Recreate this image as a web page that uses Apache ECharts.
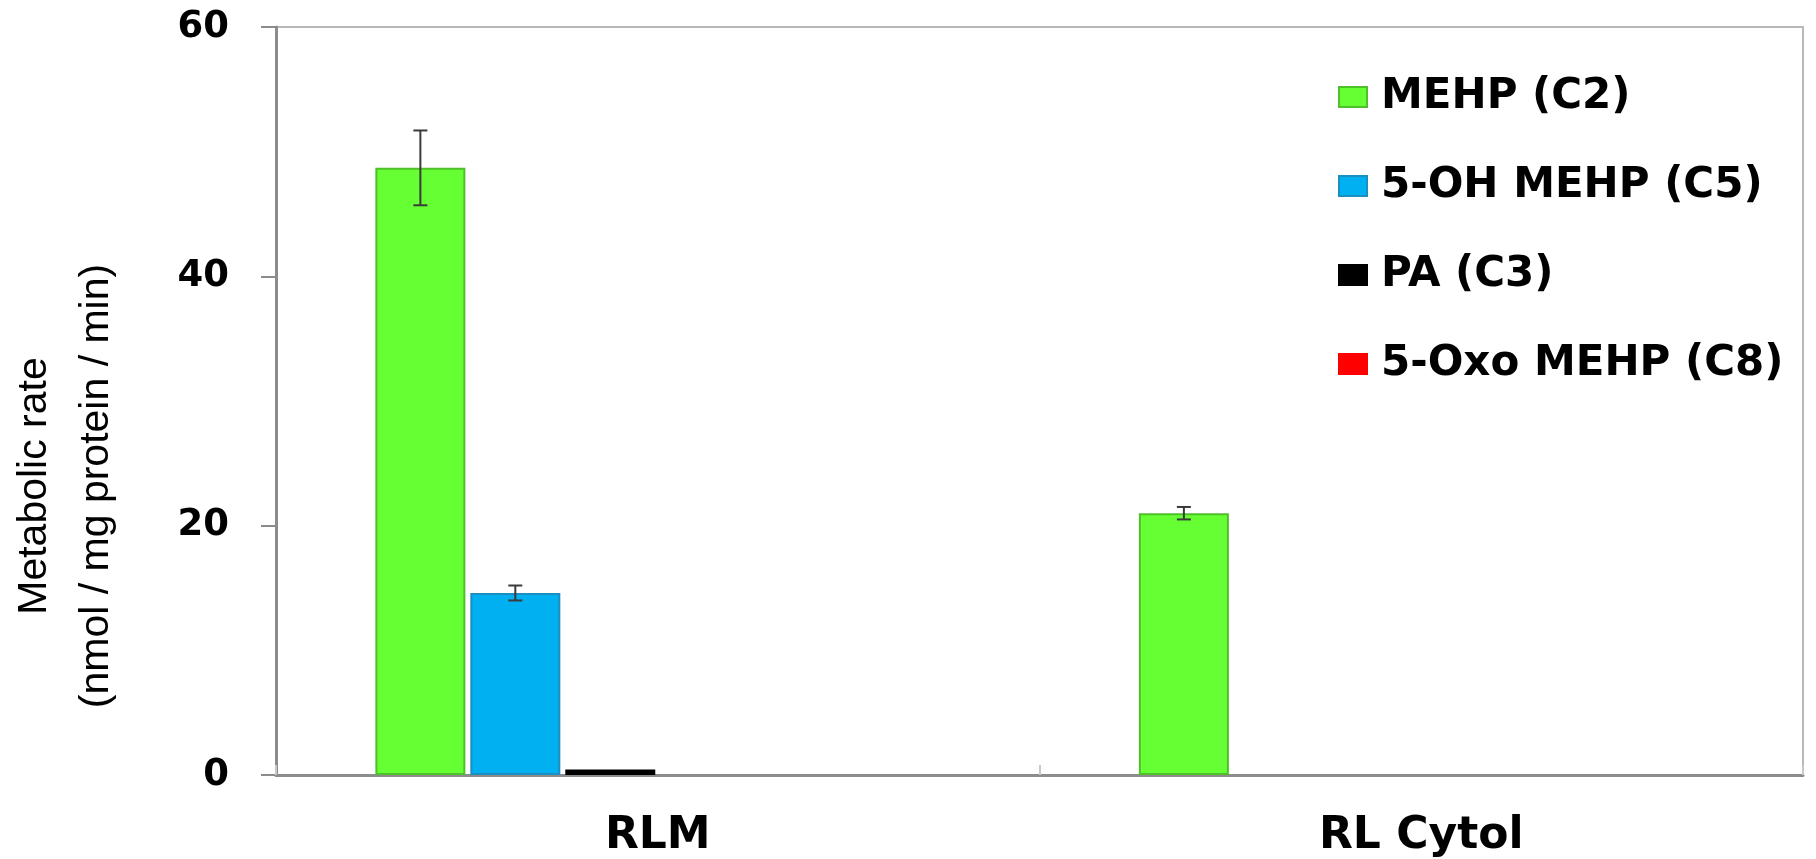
<!DOCTYPE html>
<html>
<head>
<meta charset="utf-8">
<title>Metabolic rate of MEHP metabolites</title>
<script src="https://cdn.jsdelivr.net/npm/echarts@6/dist/echarts.min.js"></script>
<style>
  html, body { margin: 0; padding: 0; background: #fff; }
  #chart { width: 1816px; height: 859px; }
</style>
</head>
<body>
<div id="chart"></div>
<script>
// Fractions
const categories = ['RLM', 'RL Cytol'];

// Metabolic rate (nmol / mg protein / min), one array per metabolite
const mehpC2 = [48.7, 21.0];
const ohMehpC5 = [14.6, 0];
const paC3 = [0.45, 0];
const oxoMehpC8 = [0, 0];

// Standard deviation for each bar
const mehpC2Err = [3.0, 0.5];
const ohMehpC5Err = [0.6, 0];
const paC3Err = [0, 0];
const oxoMehpC8Err = [0, 0];

const seriesNames = ['MEHP (C2)', '5-OH MEHP (C5)', 'PA (C3)', '5-Oxo MEHP (C8)'];
const yTicks = [0, 20, 40, 60];

const fills = ['#66ff33', '#00b0f0', '#000000', '#ff0000'];
const borders = ['#4fc02a', '#1a8fc0', '#000000', '#ff0000'];

const values = [mehpC2, ohMehpC5, paC3, oxoMehpC8];
const errors = [mehpC2Err, ohMehpC5Err, paC3Err, oxoMehpC8Err];

// Each group holds six bar slots; the last two stay empty.
const SLOTS = 6;
const BAR_W = 90;
const BAR_GAP = 0.055;

const TICK_FONT = 'DejaVu Sans';

const chart = echarts.init(document.getElementById('chart'), null, { renderer: 'canvas' });

const barSeries = values.map((vals, i) => ({
  name: seriesNames[i],
  type: 'bar',
  barWidth: BAR_W,
  barGap: (BAR_GAP * 100) + '%',
  // zero-height bars get no outline so they stay invisible
  data: vals.map(v => ({ value: v, itemStyle: { borderWidth: v > 0 ? 2 : 0 } })),
  itemStyle: {
    color: fills[i],
    borderColor: borders[i],
    borderWidth: 2
  },
  emphasis: { disabled: true },
  z: 2
}));

// Placeholder slots that keep the group layout
const emptySlots = [0, 1].map(() => ({
  type: 'bar',
  barWidth: BAR_W,
  barGap: (BAR_GAP * 100) + '%',
  data: [],
  silent: true
}));

// Error bars drawn on top of each bar
const errData = [];
values.forEach((vals, s) => {
  vals.forEach((v, c) => {
    if (errors[s][c] > 0) errData.push([c, v, errors[s][c], s]);
  });
});

const errorSeries = {
  type: 'custom',
  data: errData,
  z: 5,
  silent: true,
  renderItem: function (params, api) {
    const c = api.value(0);
    const v = api.value(1);
    const e = api.value(2);
    const s = api.value(3);
    const gapPx = BAR_W * BAR_GAP;
    const total = SLOTS * BAR_W + (SLOTS - 1) * gapPx;
    const center = api.coord([c, 0])[0];
    const x = center - total / 2 + s * (BAR_W + gapPx) + BAR_W / 2;
    const yHi = api.coord([c, v + e])[1];
    const yLo = api.coord([c, v - e])[1];
    const cap = 7;
    const style = { stroke: '#3a3a3a', lineWidth: 2 };
    return {
      type: 'group',
      children: [
        { type: 'line', shape: { x1: x, y1: yHi, x2: x, y2: yLo }, style: style },
        { type: 'line', shape: { x1: x - cap, y1: yHi, x2: x + cap, y2: yHi }, style: style },
        { type: 'line', shape: { x1: x - cap, y1: yLo, x2: x + cap, y2: yLo }, style: style }
      ]
    };
  }
};

const option = {
  backgroundColor: '#ffffff',
  animation: false,
  grid: {
    left: 276,
    right: 13,
    top: 27,
    bottom: 81,
    show: true,
    borderColor: '#b8b8b8',
    borderWidth: 2,
    containLabel: false
  },
  legend: {
    data: seriesNames,
    orient: 'vertical',
    left: 1333,
    top: 71,
    itemWidth: 28,
    itemHeight: 20,
    itemGap: 47,
    icon: 'rect',
    selectedMode: false,
    textStyle: {
      fontFamily: TICK_FONT,
      fontWeight: 'bold',
      fontSize: 42,
      lineHeight: 42,
      color: '#000',
      padding: [0, 0, 0, 9]
    }
  },
  xAxis: {
    type: 'category',
    data: categories,
    axisLine: { lineStyle: { color: '#8c8c8c', width: 3 } },
    axisTick: { show: true, inside: true, length: 10, lineStyle: { color: '#c8c8c8', width: 2 } },
    axisLabel: {
      margin: 40,
      fontFamily: TICK_FONT,
      fontWeight: 'bold',
      fontSize: 44,
      color: '#000'
    },
    splitLine: { show: false }
  },
  yAxis: {
    type: 'value',
    min: yTicks[0],
    max: yTicks[yTicks.length - 1],
    interval: yTicks[1] - yTicks[0],
    axisLine: { show: true, lineStyle: { color: '#8c8c8c', width: 3 } },
    axisTick: { show: true, inside: false, length: 15, lineStyle: { color: '#8c8c8c', width: 2 } },
    axisLabel: {
      margin: 47,
      fontFamily: TICK_FONT,
      fontWeight: 'bold',
      fontSize: 37,
      color: '#000'
    },
    splitLine: { show: false }
  },
  graphic: [{
    type: 'text',
    x: 66,
    y: 486,
    rotation: Math.PI / 2,
    style: {
      text: 'Metabolic rate\n(nmol / mg protein / min)',
      font: '41px "Liberation Sans", Arial, sans-serif',
      lineHeight: 62,
      align: 'center',
      verticalAlign: 'middle',
      fill: '#000'
    }
  }],
  series: [...barSeries, ...emptySlots, errorSeries]
};

chart.setOption(option);
</script>
</body>
</html>
